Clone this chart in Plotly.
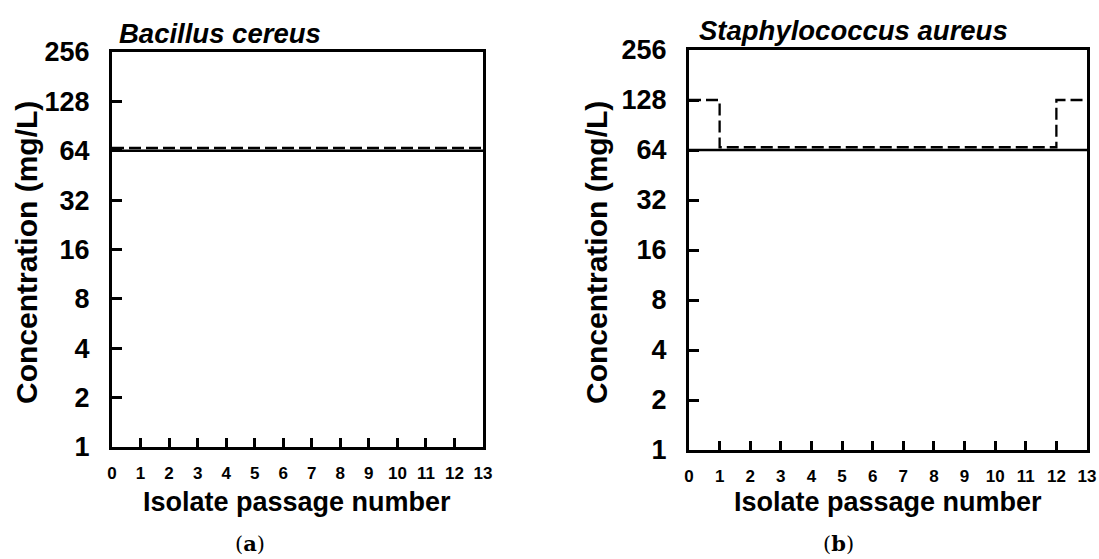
import plotly.graph_objects as go

passage = list(range(0, 14))
x_ticks = list(range(0, 14))
y_ticks = [1, 2, 4, 8, 16, 32, 64, 128, 256]

# Bacillus cereus
bc_solid = [64] * 14
bc_dashed = [66.5] * 14
# Staphylococcus aureus
sa_solid = [64] * 14
sa_dashed = [128, 66.5, 66.5, 66.5, 66.5, 66.5, 66.5, 66.5, 66.5, 66.5, 66.5, 66.5, 128, 128]

panel_titles = ["Bacillus cereus", "Staphylococcus aureus"]
captions = ["(<b>a</b>)", "(<b>b</b>)"]
x_title = "Isolate passage number"
y_title = "Concentration (mg/L)"

W, H = 1099, 559
FONT = "Liberation Sans"

def px(x):
    return x / W

def py(y):
    return 1 - y / H

fig = go.Figure()

fig.add_trace(go.Scatter(x=passage, y=bc_solid, mode="lines", line=dict(color="black", width=2.3),
                         xaxis="x", yaxis="y", showlegend=False))
fig.add_trace(go.Scatter(x=passage, y=bc_dashed, mode="lines", line=dict(color="black", width=2.3, dash="12px,5px"),
                         xaxis="x", yaxis="y", showlegend=False))
fig.add_trace(go.Scatter(x=passage, y=sa_solid, mode="lines", line=dict(color="black", width=2.3),
                         xaxis="x2", yaxis="y2", showlegend=False))
fig.add_trace(go.Scatter(x=passage, y=sa_dashed, mode="lines", line_shape="hv",
                         line=dict(color="black", width=2.3, dash="12px,5px"),
                         xaxis="x2", yaxis="y2", showlegend=False))

xa = dict(range=[0, 13], tickvals=x_ticks, ticktext=[str(v) for v in x_ticks],
          showline=True, linecolor="black", linewidth=3, mirror=True, automargin=False,
          ticks="inside", ticklen=9, tickwidth=2.5, tickcolor="black",
          showgrid=False, zeroline=False, ticklabelstandoff=9, ticklabeloverflow="allow",
          tickfont=dict(family=FONT, size=17, color="black", weight="bold"))
ya = dict(type="log", range=[0, 2.40824], tickvals=y_ticks, ticktext=[str(v) for v in y_ticks],
          showline=True, linecolor="black", linewidth=3, mirror=True, automargin=False,
          ticks="inside", ticklen=10, tickwidth=2.5, tickcolor="black",
          showgrid=False, zeroline=False, ticklabelstandoff=14,
          tickfont=dict(family=FONT, size=27, color="black", weight="bold"))

fig.update_layout(
    template="none",
    width=W, height=H, margin=dict(l=0, r=0, t=0, b=0, pad=0),
    paper_bgcolor="white", plot_bgcolor="white",
    xaxis=dict(xa, domain=[px(112), px(483)], anchor="y"),
    yaxis=dict(ya, domain=[py(447), py(52)], anchor="x"),
    xaxis2=dict(xa, domain=[px(689), px(1087)], anchor="y2"),
    yaxis2=dict(ya, domain=[py(450), py(50)], anchor="x2"),
)

ann = []
# panel titles
ann.append(dict(x=px(117), y=py(34), xref="paper", yref="paper", xanchor="left", yanchor="middle",
                text="<b><i>%s</i></b>" % panel_titles[0], showarrow=False,
                font=dict(family=FONT, size=27.5, color="black")))
ann.append(dict(x=px(697), y=py(30), xref="paper", yref="paper", xanchor="left", yanchor="middle",
                text="<b><i>%s</i></b>" % panel_titles[1], showarrow=False,
                font=dict(family=FONT, size=27.5, color="black")))
# x titles
for cx in (px(297), px(888)):
    ann.append(dict(x=cx, y=py(502), xref="paper", yref="paper", xanchor="center", yanchor="middle",
                    text="<b>%s</b>" % x_title, showarrow=False,
                    font=dict(family=FONT, size=27, color="black")))
# y titles
for cx, cy in ((px(27), py(253)), (px(597), py(253))):
    ann.append(dict(x=cx, y=cy, xref="paper", yref="paper", xanchor="center", yanchor="middle",
                    text="<b>%s</b>" % y_title, showarrow=False, textangle=-90,
                    font=dict(family=FONT, size=30, color="black")))
# captions
for cx, cap in ((px(250), captions[0]), (px(838), captions[1])):
    ann.append(dict(x=cx, y=py(543), xref="paper", yref="paper", xanchor="center", yanchor="middle",
                    text=cap, showarrow=False,
                    font=dict(family="DejaVu Serif", size=21, color="black")))
fig.update_layout(annotations=ann)

fig.write_html("out.html", config={"displayModeBar": False},
               post_script="document.body.style.margin='0';document.body.style.overflow='hidden';")
